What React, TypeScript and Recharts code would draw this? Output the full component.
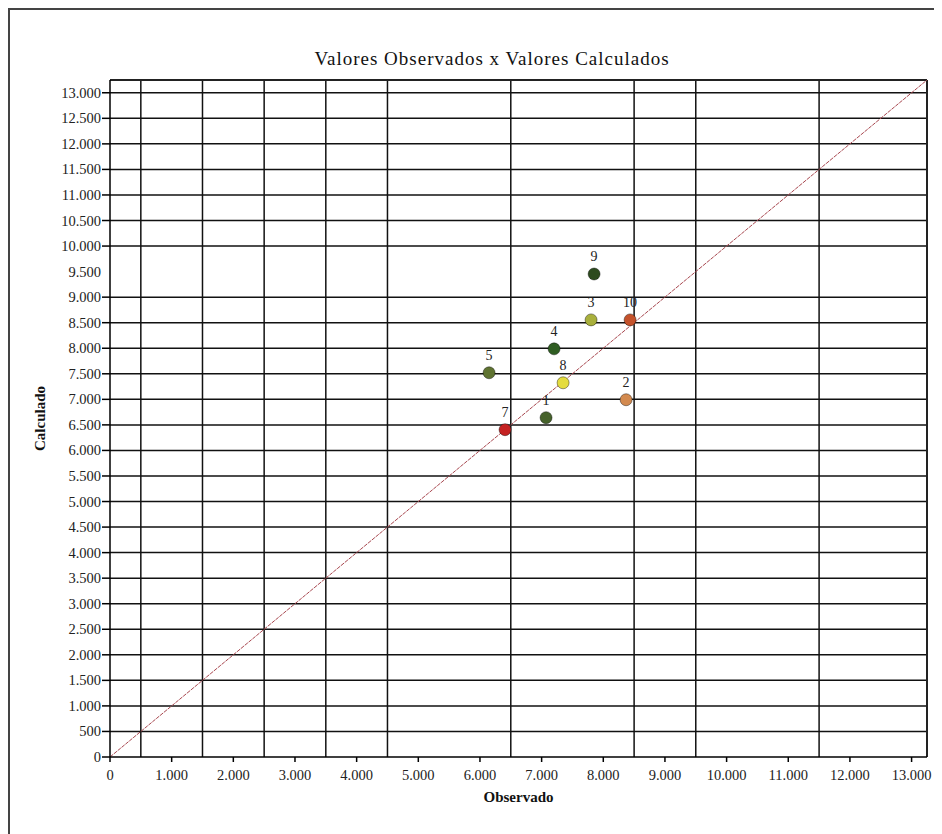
import React from 'react';
import { ScatterChart, Scatter, XAxis, YAxis, ReferenceLine, LabelList } from 'recharts';

const pointLabels = ['1', '2', '3', '4', '5', '7', '8', '9', '10'];
const observed = [7072, 8370, 7802, 7202, 6148, 6407, 7348, 7851, 8435];
const calculated = [6641, 6992, 8555, 7988, 7520, 6406, 7324, 9453, 8555];
const pointColors = ['#46622b', '#d38a4f', '#a9b03c', '#2f5d22', '#5f7331', '#c42222', '#e4dc3e', '#2d4a1e', '#c4522b'];

const xTicks = [0, 1000, 2000, 3000, 4000, 5000, 6000, 7000, 8000, 9000, 10000, 11000, 12000, 13000];
const yTicks = [0, 500, 1000, 1500, 2000, 2500, 3000, 3500, 4000, 4500, 5000, 5500, 6000, 6500, 7000, 7500, 8000, 8500, 9000, 9500, 10000, 10500, 11000, 11500, 12000, 12500, 13000];
const vGrid = [500, 1500, 2500, 3500, 4500, 6500, 8500, 9500, 11500];
const hGrid = [500, 1000, 1500, 2000, 2500, 3000, 3500, 4000, 4500, 5000, 5500, 6000, 6500, 7000, 7500, 8000, 8500, 9000, 10000, 10500, 11000, 11500, 12000, 12500, 13000];
const axisMax = 13250;

const data = observed.map((x, i) => ({ x, y: calculated[i], label: pointLabels[i], color: pointColors[i] }));

const fmt = (n: number) => String(n).replace(/\B(?=(\d{3})+(?!\d))/g, '.');
const FONT = '"Liberation Serif", "Times New Roman", serif';

const YTick = (props: any) => {
  const { x, y, payload } = props;
  const v = payload.value;
  return (
    <g>
      {hGrid.includes(v) || v === 0 ? <line x1={x} x2={x + 8} y1={y} y2={y} stroke="#000" strokeWidth={1.5} /> : null}
      <text x={x - 1} y={y} dy={5} textAnchor="end" fontFamily={FONT} fontSize={14.5} fill="#222">{fmt(v)}</text>
    </g>
  );
};

const XTick = (props: any) => {
  const { x, y, payload } = props;
  return (
    <text x={x} y={y} dy={16} textAnchor="middle" fontFamily={FONT} fontSize={14.5} fill="#222">{fmt(payload.value)}</text>
  );
};

const Dot = (props: any) => {
  const { cx, cy, payload } = props;
  return <circle cx={cx} cy={cy} r={6} fill={payload.color} stroke="rgba(0,0,0,0.4)" strokeWidth={1} />;
};

const PointLabel = (props: any) => {
  const { x, y, width, value } = props;
  const cx = x + (width || 0) / 2;
  return (
    <text x={cx} y={y - 8} textAnchor="middle" fontFamily={FONT} fontSize={14} fill="#222">{value}</text>
  );
};

export default function App() {
  return (
    <div style={{ position: 'relative', width: 934, height: 824, borderTop: '2px solid #444', borderLeft: '2px solid #444', borderBottom: '1px solid #ccc' }}>
      <div style={{ position: 'absolute', left: 16, top: 39, width: 932, textAlign: 'center', fontFamily: FONT, fontSize: 19, lineHeight: 1, letterSpacing: 1, color: '#111' }}>
        Valores Observados x Valores Calculados
      </div>
      <ScatterChart width={932} height={822} margin={{ top: 70, right: 15, bottom: 0, left: 40 }}>
        <XAxis
          type="number"
          dataKey="x"
          domain={[0, axisMax]}
          ticks={xTicks}
          interval={0}
          allowDataOverflow
          height={75}
          tickSize={5}
          tickMargin={2}
          stroke="#000"
          strokeWidth={1.5}
          tick={<XTick />}
          label={(p: any) => {
            const vb = p.viewBox;
            return (
              <text x={vb.x + vb.width / 2} y={vb.y + 45} textAnchor="middle" fontFamily={FONT} fontWeight="bold" fontSize={15} fill="#111">Observado</text>
            );
          }}
        />
        <YAxis
          type="number"
          dataKey="y"
          domain={[0, axisMax]}
          ticks={yTicks}
          interval={0}
          allowDataOverflow
          width={60}
          tickSize={8}
          tickMargin={0}
          tickLine={false}
          stroke="#000"
          strokeWidth={1.5}
          tick={<YTick />}
          label={(p: any) => {
            const vb = p.viewBox;
            const cx = vb.x - 5;
            const cy = vb.y + vb.height / 2;
            return (
              <text x={cx} y={cy} transform={`rotate(-90 ${cx} ${cy})`} textAnchor="middle" fontFamily={FONT} fontWeight="bold" fontSize={15} fill="#111">Calculado</text>
            );
          }}
        />
        {hGrid.map((v) => (
          <ReferenceLine key={'h' + v} y={v} stroke="#111" strokeWidth={1.5} />
        ))}
        {vGrid.map((v) => (
          <ReferenceLine key={'v' + v} x={v} stroke="#111" strokeWidth={1.5} />
        ))}
        <ReferenceLine y={axisMax} stroke="#222" strokeWidth={2} />
        <ReferenceLine x={axisMax} stroke="#222" strokeWidth={2} />
        <ReferenceLine segment={[{ x: 0, y: 0 }, { x: axisMax, y: axisMax }]} stroke="#a8474f" strokeWidth={1} strokeDasharray="4 1" />
        <Scatter data={data} isAnimationActive={false} shape={<Dot />}>
          <LabelList dataKey="label" content={<PointLabel />} />
        </Scatter>
      </ScatterChart>
    </div>
  );
}
